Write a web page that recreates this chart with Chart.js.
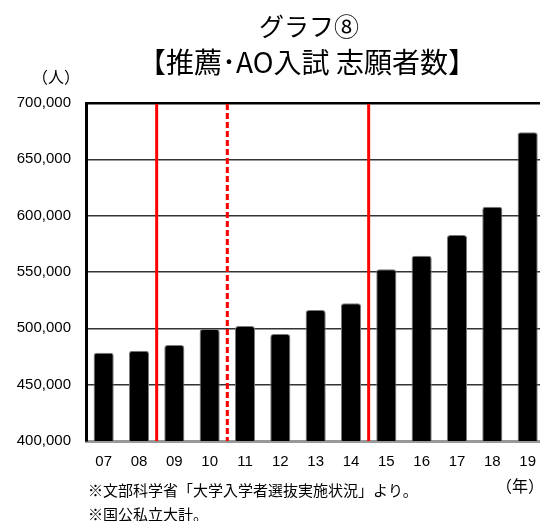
<!DOCTYPE html>
<html lang="ja">
  <head>
    <meta charset="UTF-8" />
    <title>グラフ⑧ 推薦・AO入試 志願者数</title>
    <style>
      html,
      body {
        margin: 0;
        padding: 0;
        background: #fff;
        overflow: hidden;
      }
      .wrap {
        position: relative;
        width: 548px;
        height: 521px;
      }
    </style>
  </head>
  <body>
    <div class="wrap">
      <canvas id="myChart"></canvas>
    </div>
    <script src="https://cdn.jsdelivr.net/npm/chart.js"></script>
    <script>
      // data
      const years = ["07", "08", "09", "10", "11", "12", "13", "14", "15", "16", "17", "18", "19"];
      const applicants = [478400, 480100, 485200, 499400, 502100, 495000, 516300, 522200, 552400, 564400, 582800, 608000, 674100];
      const titleText = "グラフ⑧";
      const subtitleText = "【推薦･AO入試 志願者数】";
      const yUnit = "（人）";
      const xUnit = "（年）";
      const notes = ["※文部科学省「大学入学者選抜実施状況」より。", "※国公私立大計。"];
      // red separators: after which category, dashed or not
      const dividers = [
        { after: "08", dashed: false },
        { after: "10", dashed: true },
        { after: "14", dashed: false },
      ];

      const jpFont = '"Noto Sans CJK JP", sans-serif';
      const numFont = '"Liberation Sans", Arial, sans-serif';

      const dividerLines = {
        id: "dividerLines",
        beforeDatasetsDraw(chart) {
          const { ctx, chartArea, scales } = chart;
          const x = scales.x;
          ctx.save();
          ctx.strokeStyle = "#ff0000";
          ctx.lineWidth = 3;
          dividers.forEach((d) => {
            const i = years.indexOf(d.after);
            const px = (x.getPixelForValue(i) + x.getPixelForValue(i + 1)) / 2;
            ctx.setLineDash(d.dashed ? [6, 3] : []);
            ctx.beginPath();
            ctx.moveTo(px, chartArea.top + 1);
            ctx.lineTo(px, chartArea.bottom);
            ctx.stroke();
          });
          ctx.restore();
        },
      };

      // headings, units and footnotes (title sits off-centre of the canvas in the original)
      const extraText = {
        id: "extraText",
        afterDraw(chart) {
          const { ctx, chartArea } = chart;
          ctx.save();
          ctx.fillStyle = "#000";
          ctx.textBaseline = "middle";
          ctx.textAlign = "center";
          ctx.font = "25px " + jpFont;
          ctx.fillText(titleText, chartArea.left + 223, 26);
          ctx.font = "28px " + jpFont;
          ctx.fillText(subtitleText, chartArea.left + 221, 62);
          ctx.font = "16px " + jpFont;
          ctx.fillText(yUnit, chartArea.left - 30, chartArea.top - 26);
          ctx.fillText(xUnit, 520, chartArea.bottom + 45);
          ctx.font = "15px " + jpFont;
          ctx.textAlign = "left";
          notes.forEach((t, i) => {
            ctx.fillText(t, chartArea.left + 2, chartArea.bottom + 49 + i * 24);
          });
          ctx.restore();
        },
      };

      const ctx = document.getElementById("myChart");
      const myChart = new Chart(ctx, {
        type: "bar",
        data: {
          labels: years,
          datasets: [
            {
              label: "志願者数",
              data: applicants,
              backgroundColor: "#000",
              borderColor: "#7a7a7a",
              borderWidth: 1,
              borderRadius: 3,
              borderSkipped: "bottom",
              categoryPercentage: 1,
              barPercentage: 0.57,
            },
          ],
        },
        options: {
          responsive: true,
          maintainAspectRatio: false,
          animation: false,
          layout: { padding: { left: 0, right: 0, top: 103, bottom: 0 } },
          plugins: {
            legend: { display: false },
            tooltip: { enabled: false },
            title: { display: false },
          },
          scales: {
            x: {
              grid: { display: false, drawTicks: false },
              border: { display: true, color: "#999", width: 3 },
              ticks: { color: "#000", padding: 12, font: { family: numFont, size: 15 } },
              afterFit(scale) {
                scale.height = 80;
              },
            },
            y: {
              min: 400000,
              max: 700000,
              grid: {
                drawTicks: false,
                color: (c) => (c.tick.value === 700000 ? "#000" : c.tick.value === 400000 ? "rgba(0,0,0,0)" : "#333"),
                lineWidth: (c) => (c.tick.value === 700000 ? 2.5 : 1.5),
              },
              border: { display: true, color: "#000", width: 3 },
              ticks: {
                stepSize: 50000,
                color: "#000",
                padding: 15,
                font: { family: numFont, size: 15 },
                callback: (v) => v.toLocaleString("en-US"),
              },
              afterFit(scale) {
                scale.width = 86;
              },
            },
          },
        },
        plugins: [dividerLines, extraText],
      });
    </script>
  </body>
</html>
